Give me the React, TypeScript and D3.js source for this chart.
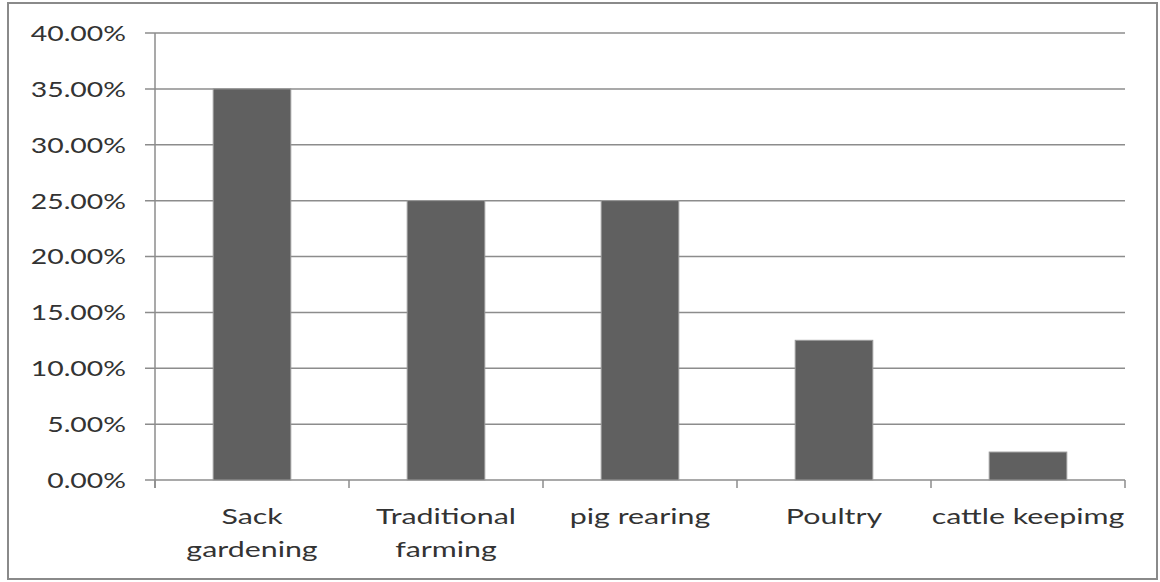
import React from "react";
import * as d3 from "d3";

const categories: string[][] = [
  ["Sack", "gardening"],
  ["Traditional", "farming"],
  ["pig rearing"],
  ["Poultry"],
  ["cattle keepimg"],
];
const values: number[] = [35, 25, 25, 12.5, 2.5];
const yTicks: number[] = [0, 5, 10, 15, 20, 25, 30, 35, 40];

export default function App() {
  const W = 1160, H = 582;
  const left = 155, right = 1125, top = 33, bottom = 480;
  const x = d3.scaleBand<number>().domain(d3.range(values.length)).range([left, right]).paddingInner(0).paddingOuter(0);
  const y = d3.scaleLinear().domain([0, 40]).range([bottom, top]);
  const bw = x.bandwidth() * 0.4;
  const font = "Lato, 'Open Sans', sans-serif";
  return (
    <svg width={W} height={H} style={{ position: "absolute", left: 0, top: 0 }}>
      <rect x={0} y={0} width={W} height={H} fill="#fff" />
      <rect x={8} y={3} width={1149} height={576} fill="#fff" stroke="#8a8a8a" strokeWidth={2} />
      {yTicks.map((t) => (
        <g key={t}>
          <line x1={left - 10} x2={right} y1={y(t)} y2={y(t)} stroke="#8c8c8c" strokeWidth={1.5} />
          <g transform={`translate(126,${y(t)}) scale(1.29,1)`}>
            <text x={0} y={0} dy="0.36em" textAnchor="end" fontFamily={font} fontSize={22} fill="#333">
              {t.toFixed(2) + "%"}
            </text>
          </g>
        </g>
      ))}
      <line x1={left} x2={left} y1={top} y2={bottom + 8} stroke="#8c8c8c" strokeWidth={1.5} />
      {d3.range(values.length + 1).map((i) => {
        const xx = left + i * x.step();
        return <line key={i} x1={xx} x2={xx} y1={bottom} y2={bottom + 8} stroke="#8c8c8c" strokeWidth={1.5} />;
      })}
      {values.map((v, i) => (
        <rect
          key={i}
          x={(x(i) as number) + x.bandwidth() / 2 - bw / 2}
          y={y(v)}
          width={bw}
          height={y(0) - y(v)}
          fill="#606060"
          stroke="#9a9a9a"
          strokeWidth={1}
        />
      ))}
      {categories.map((lines, i) => (
        <g key={i} transform={`translate(${(x(i) as number) + x.bandwidth() / 2},0) scale(1.38,1)`}>
          <text textAnchor="middle" fontFamily={font} fontSize={22} fill="#333">
            {lines.map((l, j) => (
              <tspan key={j} x={0} y={524 + j * 33}>
                {l}
              </tspan>
            ))}
          </text>
        </g>
      ))}
    </svg>
  );
}
